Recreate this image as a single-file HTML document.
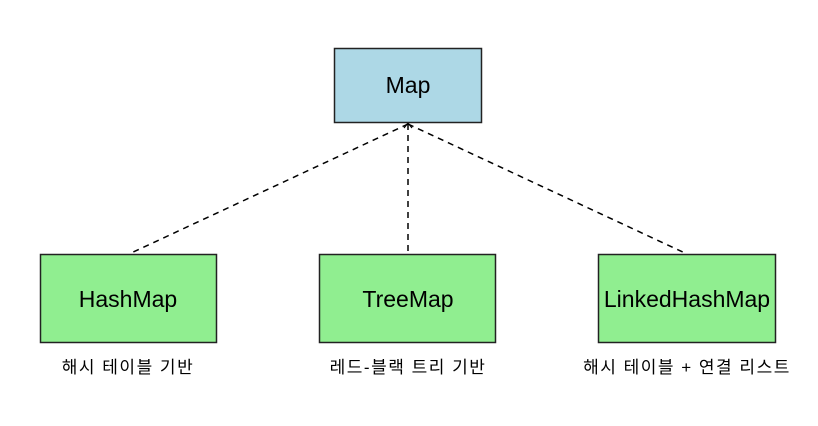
<!DOCTYPE html>
<html><head><meta charset="utf-8"><style>
body{margin:0;background:#fff;width:818px;height:421px;overflow:hidden}
</style></head><body>
<svg width="818" height="421" xmlns="http://www.w3.org/2000/svg" font-family="'Liberation Sans','Noto Sans CJK KR',sans-serif">
<rect width="818" height="421" fill="#fff"/>
<g stroke="#000" stroke-width="1.5" stroke-dasharray="6,5" fill="none">
<line x1="408" y1="124" x2="129" y2="254"/>
<line x1="408" y1="124" x2="408" y2="254"/>
<line x1="408" y1="124" x2="687" y2="254"/>
</g>
<path d="M404,128 L408,123 L412,128" stroke="#000" stroke-width="1.2" fill="none"/>
<rect x="334.5" y="48.5" width="147" height="74" fill="#add8e6" stroke="#222" stroke-width="1.5"/>
<rect x="40.5" y="254.5" width="176" height="88" fill="#90ee90" stroke="#222" stroke-width="1.5"/>
<rect x="319.5" y="254.5" width="176" height="88" fill="#90ee90" stroke="#222" stroke-width="1.5"/>
<rect x="598.5" y="254.5" width="177" height="88" fill="#90ee90" stroke="#222" stroke-width="1.5"/>
<g font-size="23" text-anchor="middle" fill="#000">
<text x="408" y="93">Map</text>
<text x="128" y="307">HashMap</text>
<text x="408" y="307">TreeMap</text>
<text x="687" y="307">LinkedHashMap</text>
</g>
<g font-size="17" text-anchor="middle" fill="#000" letter-spacing="1.5">
<text x="128" y="373">해시 테이블 기반</text>
<text x="408" y="373">레드-블랙 트리 기반</text>
<text x="687" y="373">해시 테이블 + 연결 리스트</text>
</g>
</svg>
</body></html>
